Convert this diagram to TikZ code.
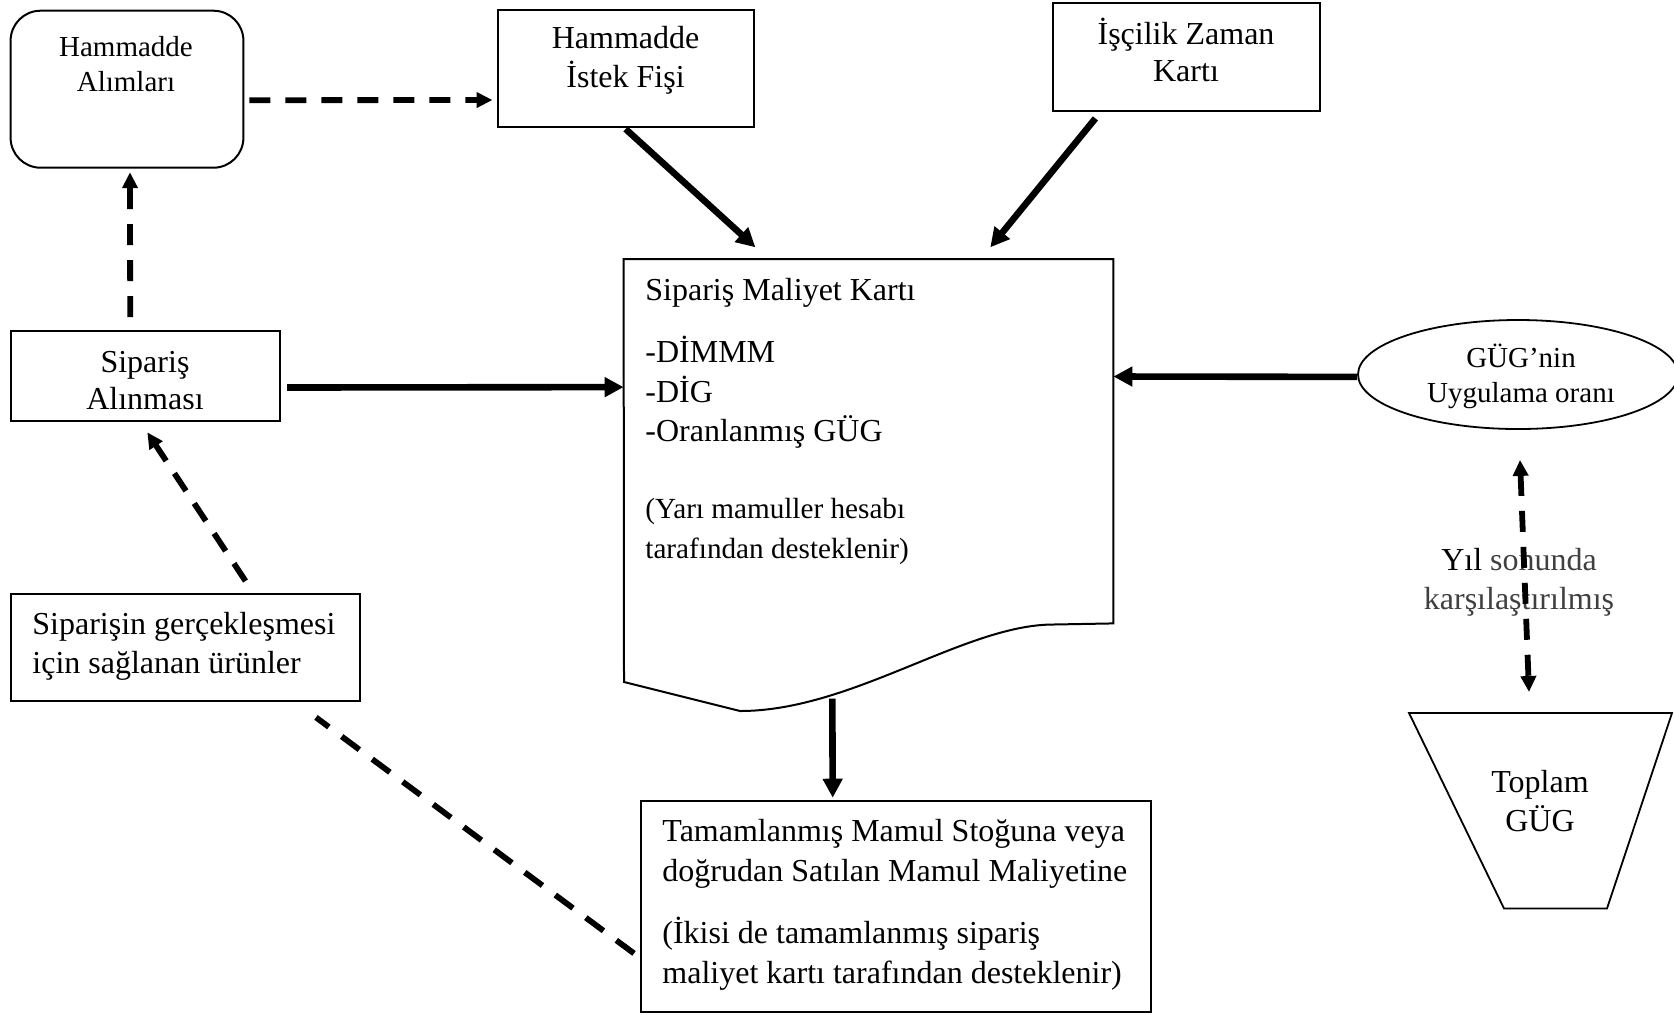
\documentclass[tikz,border=0pt]{standalone}
\usepackage{fontspec}
\setmainfont{Liberation Serif}
\usetikzlibrary{arrows.meta,calc,shapes.geometric}

\begin{document}
\begin{tikzpicture}[x=0.5pt,y=-0.5pt,
  box/.style={draw, line width=1pt, inner sep=0},
  txt/.style={inner sep=0, align=center},
  solidarrow/.style={line width=3.3pt, -{Triangle[length=9.5pt,width=9.5pt]}},
  dasharrow/.style={line width=2.9pt, dash pattern=on 10.5pt off 7.5pt, -{Triangle[length=8pt,width=7.5pt]}},
  dashline/.style={line width=2.9pt, dash pattern=on 11pt off 8pt},
]
\path[use as bounding box, fill=white] (0,0) rectangle (1674,1014);

% boxes
\node[box, rounded corners=15pt, minimum width=116.4pt, minimum height=78.5pt] (alim) at (127,89.2) {};
\node[box, minimum width=128.1pt, minimum height=58.7pt] (istek) at (625.6,68.3) {};
\node[box, minimum width=133.5pt, minimum height=53.9pt] (iscilik) at (1186.2,57.1) {};
\node[box, minimum width=134.5pt, minimum height=44.8pt] (siparis) at (145.2,375.8) {};
\node[box, minimum width=174.6pt, minimum height=53.9pt] (urun) at (185.3,647.5) {};
\node[box, minimum width=255.2pt, minimum height=105.7pt] (tamam) at (895.8,906.4) {};
\node[draw, ellipse, line width=0.9pt, inner sep=0, minimum width=160pt, minimum height=54.5pt] (oran) at (1518,374.5) {};

% job cost card (document shape)
\node[inner sep=0, minimum width=244.5pt, minimum height=181.7pt] (doc) at (868.5,441.3) {};
\draw[line width=1pt] (doc.north west) -- (doc.north east) -- (doc.south east)
  -- (1048,624.6) .. controls (960,628) and (850,711) .. (740,711) -- (624,682) -- cycle;

% total overhead (trapezoid)
\draw[line width=0.9pt] (1409,713) -- (1672,713) -- (1607,908.5) -- (1504,908.5) -- cycle;
\coordinate (toplamtop) at (1540.5,713);

% texts
\node[txt, font=\fontsize{14.5}{17.6}\selectfont] (alimT) at (126,67.1) {\strut Hammadde\\Alımları\strut};
\node[txt, font=\fontsize{16}{17.6}\selectfont] (istekT) at (625.6,60.5) {\strut Hammadde\\İstek Fişi\strut};
\node[txt, font=\fontsize{16}{18.25}\selectfont] (iscilikT) at (1186,55.4) {\strut İşçilik Zaman\\Kartı\strut};
\node[txt, font=\fontsize{16}{18.5}\selectfont] (siparisT) at (145,383.6) {\strut Sipariş\\Alınması\strut};
\node[txt, align=left, anchor=west, font=\fontsize{16}{19.75}\selectfont] (urunT) at (32,645.85) {\strut Siparişin gerçekleşmesi\\için sağlanan ürünler\strut};
\node[txt, align=left, anchor=west, font=\fontsize{16}{19.75}\selectfont] (docT) at (645,421.6) {\strut Sipariş Maliyet Kartı\\[11.25pt]-DİMMM\\-DİG\\-Oranlanmış GÜG\\[18.75pt]\fontsize{14.6}{19.75}\selectfont(Yarı mamuller hesabı\\\fontsize{14.6}{19.75}\selectfont tarafından desteklenir)\strut};
\node[txt, align=left, anchor=west, font=\fontsize{16}{20}\selectfont] (tamamT) at (662,904) {\strut Tamamlanmış Mamul Stoğuna veya\\doğrudan Satılan Mamul Maliyetine\\[11pt](İkisi de tamamlanmış sipariş\\maliyet kartı tarafından desteklenir)\strut};
\node[txt, font=\fontsize{14.5}{17.75}\selectfont] (oranT) at (1521,377.7) {\strut GÜG’nin\\Uygulama oranı\strut};
\node[txt, font=\fontsize{16}{19.75}\selectfont] (yilT) at (1519,581.85) {\strut Yıl \textcolor{black!75}{sonunda}\\\textcolor{black!75}{karşılaştırılmış}\strut};
\node[txt, font=\fontsize{16}{19.75}\selectfont] (toplamT) at (1540,803.85) {\strut Toplam\\GÜG\strut};

% connectors
\draw[dasharrow] ($(alim.east)+(5,11)$) -- ($(istek.west)+(-4,31.7)$);
\draw[dasharrow] ($(siparis.north)+(-15,-13)$) -- ($(alim.south)+(3,3.5)$);
\draw[dasharrow] ($(urun.north)+(60.2,-11.6)$) -- ($(siparis.south)+(2.1,10.7)$);
\draw[dashline] ($(tamam.west)+(-5.6,47)$) -- ($(urun.south)+(130.7,15)$);
\draw[solidarrow] ($(istek.south)+(0,1)$) -- ($(doc.north west)+(131.8,-11.9)$);
\draw[solidarrow] ($(iscilik.south)+(-90.8,6.4)$) -- ($(doc.north west)+(366.7,-11.9)$);
\draw[solidarrow] ($(siparis.east)+(6.3,11.7)$) -- ($(doc.north west)+(0,127.9)$);
\draw[solidarrow] ($(oran.west)+(0,2.4)$) -- ($(doc.north east)+(0,117.3)$);
\draw[solidarrow] ($(doc.north west)+(208.7,439.4)$) -- ($(tamam.north)+(-63.1,-2)$);
\draw[dasharrow, {Triangle[length=8pt,width=7.5pt]}-{Triangle[length=8pt,width=7.5pt]}]
  ($(oran.south)+(2,30)$) -- ($(toplamtop)+(-11.5,-21)$);
\end{tikzpicture}
\end{document}
